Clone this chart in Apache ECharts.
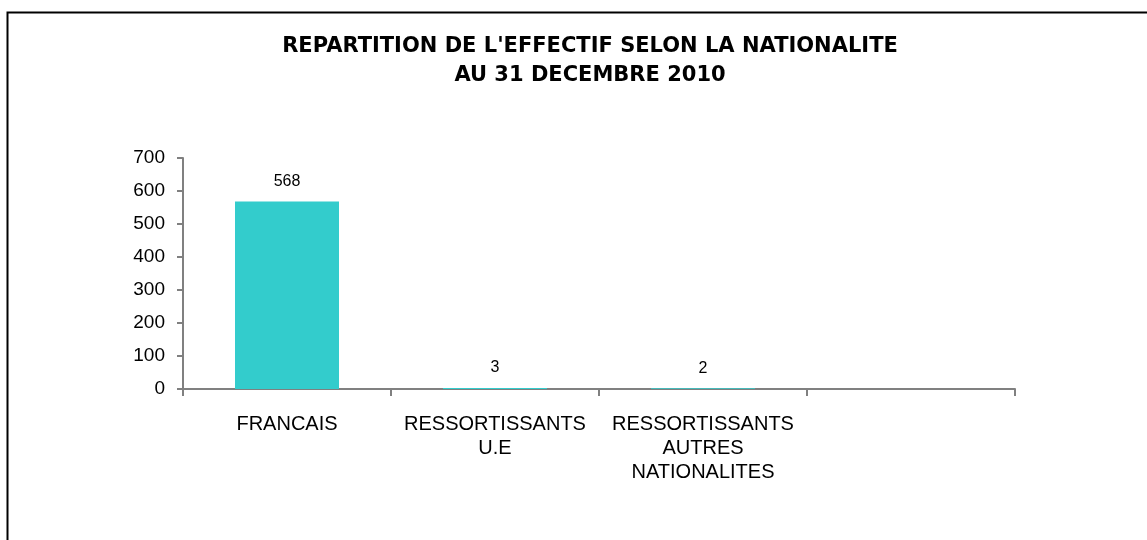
<!DOCTYPE html>
<html>
<head>
<meta charset="utf-8">
<script src="https://cdn.jsdelivr.net/npm/echarts@6/dist/echarts.min.js"></script>
<style>
  html, body { margin: 0; padding: 0; background: #fff; }
  #chart { width: 1147px; height: 540px; }
</style>
</head>
<body>
<div id="chart"></div>
<script>
// donnees
const categories = ["FRANCAIS", "RESSORTISSANTS\nU.E", "RESSORTISSANTS\nAUTRES\nNATIONALITES", ""];
const effectifs = [568, 3, 2, null];
const yTicks = { min: 0, max: 700, interval: 100 };

const chart = echarts.init(document.getElementById("chart"));

chart.setOption({
  animation: false,
  title: {
    text: "REPARTITION DE L'EFFECTIF SELON LA NATIONALITE\nAU 31 DECEMBRE 2010",
    left: 585,
    textAlign: "center",
    top: 27,
    textStyle: {
      fontFamily: "DejaVu Sans",
      fontWeight: "bold",
      fontSize: 21,
      lineHeight: 29,
      color: "#000",
    },
  },
  // cadre du graphique (bords droit et bas hors image)
  graphic: [
    {
      type: "rect",
      shape: { x: 7.5, y: 12.5, width: 1300, height: 700 },
      style: { fill: "none", stroke: "#000", lineWidth: 2 },
    },
  ],
  grid: {
    left: 183,
    right: 132,
    top: 158,
    bottom: 151,
  },
  xAxis: {
    type: "category",
    data: categories,
    axisLine: { lineStyle: { color: "#808080", width: 2 } },
    axisTick: { show: true, alignWithLabel: false, length: 7, lineStyle: { color: "#808080", width: 2 } },
    axisLabel: {
      interval: 0,
      margin: 23,
      fontFamily: "Liberation Sans",
      fontSize: 20,
      lineHeight: 24,
      color: "#000",
    },
  },
  yAxis: {
    type: "value",
    min: yTicks.min,
    max: yTicks.max,
    interval: yTicks.interval,
    splitLine: { show: false },
    axisLine: { show: true, lineStyle: { color: "#808080", width: 2 } },
    axisTick: { show: true, length: 6, lineStyle: { color: "#808080", width: 2 } },
    axisLabel: {
      margin: 18,
      fontFamily: "Liberation Sans",
      fontSize: 19,
      color: "#000",
    },
  },
  series: [
    {
      type: "bar",
      data: effectifs,
      barWidth: "50%",
      itemStyle: { color: "#33CCCC" },
      label: {
        show: true,
        position: "top",
        distance: 12,
        fontFamily: "Liberation Sans",
        fontSize: 16,
        color: "#000",
      },
    },
  ],
});
</script>
</body>
</html>
